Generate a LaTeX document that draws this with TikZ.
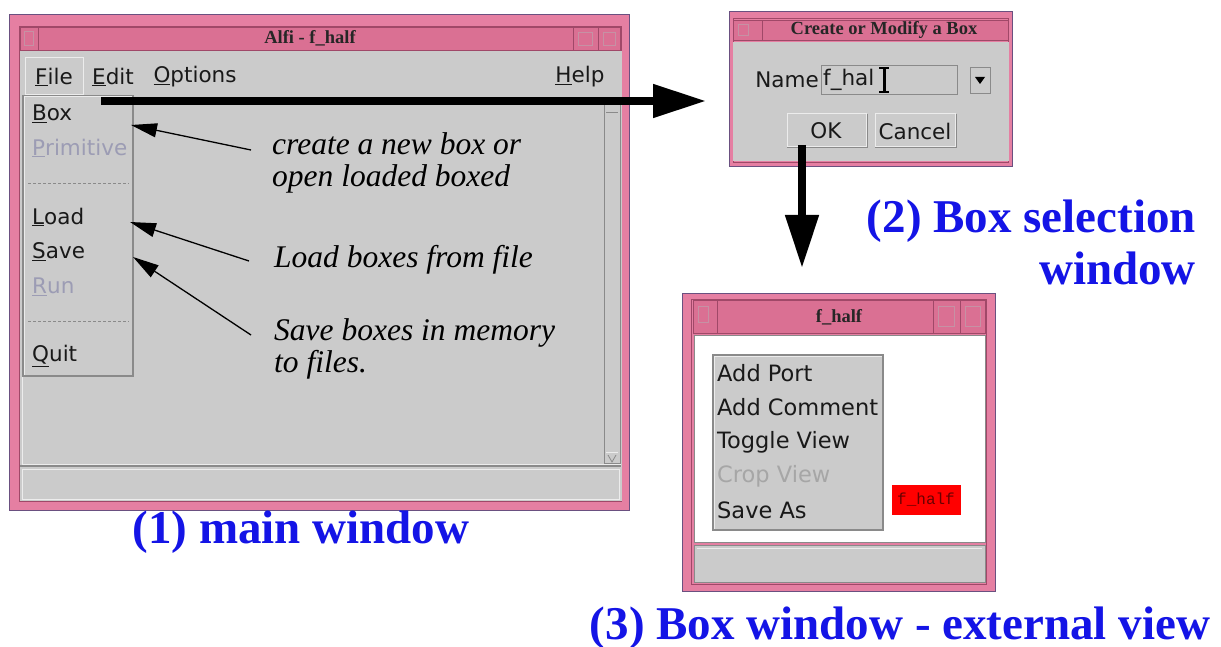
\documentclass[tikz,border=0pt]{standalone}
\usepackage{fontspec}
\setmainfont{Liberation Serif}
\newfontfamily\guifont{DejaVu Sans}
\newfontfamily\redmono{Liberation Mono}
\usetikzlibrary{arrows.meta}
\definecolor{pinkf}{HTML}{E57FA2}
\definecolor{pinkt}{HTML}{DA7093}
\definecolor{pinkd}{HTML}{A04868}
\definecolor{framedark}{HTML}{6A5080}
\definecolor{guigray}{HTML}{CBCBCB}
\definecolor{guilight}{HTML}{ECECEC}
\definecolor{guidark}{HTML}{8A8A8A}
\definecolor{labelblue}{HTML}{1414E6}
\definecolor{disabled}{HTML}{9C9CB4}
\definecolor{redbox}{HTML}{FF0000}
\definecolor{redtext}{HTML}{6A0000}
\tikzset{
  gui/.style={font=\guifont\fontsize{21.5}{25}\selectfont, inner sep=0pt, text=black!90},
  guib/.style={font=\guifont\fontsize{22.5}{26}\selectfont, inner sep=0pt, text=black!90},
  ann/.style={font=\fontsize{31.5}{32}\selectfont\itshape, align=left, anchor=west, inner sep=0pt},
  lab/.style={font=\fontsize{47}{52}\selectfont\bfseries, text=labelblue, inner sep=0pt},
  ttl/.style={font=\fontsize{18.5}{20}\selectfont\bfseries, text=black!85, inner sep=0pt},
  winframe/.style={fill=pinkf, draw=framedark, line width=1pt},
  innerframe/.style={draw=pinkd, line width=0.8pt},
  titlebar/.style={fill=pinkt, draw=pinkd, line width=0.8pt},
  panel/.style={fill=guigray, draw=guidark, line width=0.8pt},
  raised/.style={fill=guigray, draw=guilight, line width=1pt},
  sep/.style={draw=guidark, line width=0.8pt, densely dashed},
  bigarrow/.style={line width=8pt, -{Triangle[length=53pt,width=32pt]}},
  thinarrow/.style={line width=1.3pt, -{Triangle[length=26pt,width=14pt]}},
}
\begin{document}
\begin{tikzpicture}[x=1pt,y=-1pt]
\useasboundingbox[fill=white] (0,0) rectangle (1221,647);

% ================= main window =================
\draw[winframe] (9,15) rectangle (629,510);
\draw[innerframe] (19,26) rectangle (621,501);
\draw[titlebar] (20,27) rectangle (620,50);
\draw[titlebar] (20,27) rectangle (38,50);
\draw[draw=pinkd!60, line width=0.6pt] (24,31) rectangle (33,45);
\draw[titlebar] (573,27) rectangle (598,50);
\draw[titlebar] (598,27) rectangle (620,50);
\draw[draw=pinkd!60, line width=0.6pt] (578,32) rectangle (592,45) (603,32) rectangle (615,45);
\node[ttl] (maintitle) at (310,38) {Alfi - f\_half};
\draw[panel, draw=guigray] (20,51) rectangle (621,500);
% menu bar
\draw[raised] (25,58) rectangle (83,95);
\node[gui] (mFile) at (54,77) {\underline{F}ile};
\node[gui] (mEdit) at (113,77) {\underline{E}dit};
\node[gui] (mOpt) at (195,77) {\underline{O}ptions};
\node[gui] (mHelp) at (580,77) {\underline{H}elp};
% content area and scrollbar
\draw[draw=guilight, line width=1pt] (22,98) rectangle (620,464);
\draw[panel] (604,100) rectangle (620,463);
\draw[draw=guilight, line width=0.8pt] (606,104) -- (618,104) (606,452) -- (618,452);
\draw[draw=guidark, line width=0.8pt] (606,112) -- (618,112);
\draw[draw=guidark, line width=0.8pt] (608,455) -- (612,462) -- (616,455);
% status bar
\draw[draw=guidark, line width=1.5pt] (20,466) -- (621,466);
\draw[draw=guilight, line width=1pt] (22,469) rectangle (619,499);
% dropdown menu
\draw[fill=guigray, draw=guidark, line width=1.2pt] (23,96) rectangle (133,376);
\draw[draw=guilight, line width=1pt] (24,375) -- (24,97) -- (132,97);
\node[gui, anchor=west] (miBox) at (32,114) {\underline{B}ox};
\node[gui, anchor=west, text=disabled] (miPrim) at (32,148) {\underline{P}rimitive};
\draw[sep] (28,183) -- (129,183);
\node[gui, anchor=west] (miLoad) at (32,217) {\underline{L}oad};
\node[gui, anchor=west] (miSave) at (32,252) {\underline{S}ave};
\node[gui, anchor=west, text=disabled] (miRun) at (32,287) {\underline{R}un};
\draw[sep] (28,321) -- (129,321);
\node[gui, anchor=west] (miQuit) at (32,356) {\underline{Q}uit};

% ================= box selection dialog =================
\draw[winframe] (729,12) rectangle (1012,167);
\draw[innerframe] (733,18) rectangle (1008,162);
\draw[titlebar] (733,20) rectangle (1008,40);
\draw[titlebar] (733,20) rectangle (762,40);
\draw[draw=pinkd!60, line width=0.6pt] (738,24) rectangle (748,35);
\node[ttl] (dlgtitle) at (884,30) {Create or Modify a Box};
\draw[fill=guigray, draw=guigray] (733,42) rectangle (1008,160);
\node[gui, anchor=east] (nameLbl) at (819,80) {Name};
\draw[fill=guigray, draw=guidark, line width=0.8pt] (821,65) rectangle (957,94);
\node[gui, anchor=west] (nameVal) at (823,80) {f\_hal};
\draw[line width=3pt] (884,68) -- (884,92);
\draw[line width=1.2pt] (879,68) -- (889,68) (879,92) -- (889,92);
\draw[raised, draw=guidark, line width=0.8pt] (970,67) rectangle (990,93);
\fill (975,77) -- (985,77) -- (980,84) -- cycle;
\draw[raised, draw=guilight] (787,114) rectangle (866,147);
\draw[guidark, line width=1pt] (867,114) -- (867,148) -- (787,148);
\node[gui] (okBtn) at (826,131) {OK};
\draw[raised, draw=guilight] (875,114) rectangle (955,147);
\draw[guidark, line width=1pt] (956,114) -- (956,148) -- (875,148);
\node[gui] (cancelBtn) at (915,131) {Cancel};

% ================= box window =================
\draw[winframe] (682,293) rectangle (995,591);
\draw[innerframe] (691,299) rectangle (986,584);
\draw[titlebar] (693,300) rectangle (985,333);
\draw[titlebar] (693,300) rectangle (717,333);
\draw[draw=pinkd!60, line width=0.6pt] (698,306) rectangle (708,322);
\draw[titlebar] (933,300) rectangle (960,333);
\draw[titlebar] (960,300) rectangle (985,333);
\draw[draw=pinkd!60, line width=0.6pt] (938,306) rectangle (954,326) (965,306) rectangle (980,326);
\node[ttl] (boxtitle) at (839,317) {f\_half};
\draw[fill=white, draw=guidark, line width=0.6pt] (694,335) rectangle (985,542);
\draw[fill=guigray, draw=guidark, line width=0.8pt] (694,545) rectangle (985,582);
\draw[draw=guilight, line width=1pt] (697,548) -- (982,548);
\draw[fill=guigray, draw=guidark, line width=1.4pt] (713,355) rectangle (883,530);
\draw[draw=guilight, line width=1pt] (714,529) -- (714,356) -- (882,356);
\node[guib, anchor=west] (bAddPort) at (717,373) {Add Port};
\node[guib, anchor=west] (bAddCom) at (717,407) {Add Comment};
\node[guib, anchor=west] (bToggle) at (717,442) {Toggle View};
\node[guib, anchor=west, text=black!35] (bCrop) at (717,476) {Crop View};
\node[guib, anchor=west] (bSaveAs) at (717,510) {Save As};
\node[fill=redbox, text=redtext, font=\redmono\fontsize{16}{18}\selectfont, minimum width=69pt, minimum height=30pt, inner sep=0pt] (redBlock) at (926,500) {f\_half};

% ================= annotations =================
\node[ann] (annBox) at (272,163) {create a new box or\\open loaded boxed};
\node[ann] (annLoad) at (274,260) {Load boxes from file};
\node[ann] (annSave) at (274,349) {Save boxes in memory\\to files.};
\coordinate (tailBox) at (251,150);
\coordinate (tipBox) at (131,125);
\coordinate (tailLoad) at (249,261);
\coordinate (tipLoad) at (130,222);
\coordinate (tailSave) at (251,335);
\coordinate (tipSave) at (133,257);
\draw[thinarrow] (tailBox) -- (tipBox);
\draw[thinarrow] (tailLoad) -- (tipLoad);
\draw[thinarrow] (tailSave) -- (tipSave);

% ================= big arrows =================
\coordinate (bigStart) at (101,101);
\coordinate (bigEnd) at (706,101);
\draw[bigarrow] (bigStart) -- (bigEnd);
\coordinate (okBottom) at (802,145);
\coordinate (downEnd) at (802,268);
\draw[bigarrow] (okBottom) -- (downEnd);

% ================= labels =================
\node[lab] (lab1) at (301,532) {(1) main window};
\node[lab, align=right, anchor=east] (lab2) at (1196,242) {(2) Box selection\\window};
\node[lab] (lab3) at (900,628) {(3) Box window - external view};
\end{tikzpicture}
\end{document}
